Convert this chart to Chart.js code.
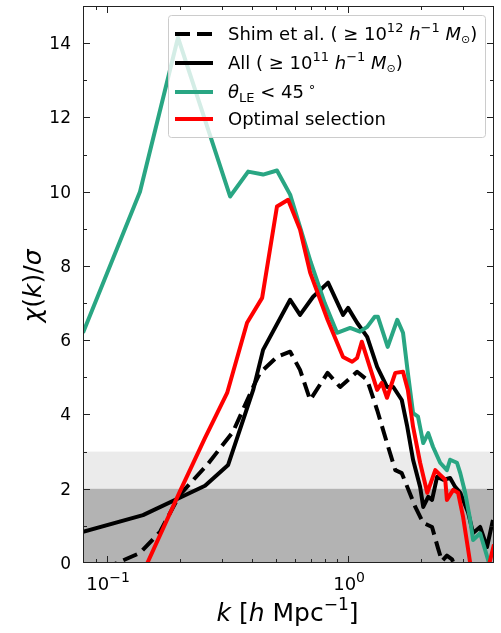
<!DOCTYPE html>
<html>
<head>
<meta charset="utf-8">
<script src="https://cdn.jsdelivr.net/npm/chart.js@4/dist/chart.umd.min.js"></script>
<style>
body { margin:0; background:#fff; }
</style>
</head>
<body>
<canvas id="myChart" width="501" height="633"></canvas>
<script>
// values, k in h/Mpc
const shimK   = [0.0795,0.110,0.137,0.166,0.200,0.260,0.333,0.404,0.431,0.507,0.575,0.632,0.696,0.822,0.927,1.09,1.20,1.32,1.45,1.57,1.67,1.76,1.90,2.05,2.23,2.36,2.45,2.57,2.70,2.92,4.03]
const shimChi = [-0.4,0,0.27,0.84,1.83,2.64,3.53,4.74,5.12,5.55,5.69,5.2,4.39,5.12,4.74,5.15,4.93,4.12,3.23,2.5,2.42,2.05,1.51,1.08,0.97,0.4,0.05,0.2,0.1,-0.5,-1]

const allK   = [0.0795,0.141,0.255,0.318,0.404,0.444,0.575,0.632,0.716,0.826,0.953,1.00,1.09,1.20,1.32,1.45,1.54,1.67,1.76,1.86,1.99,2.05,2.15,2.23,2.34,2.48,2.65,2.78,2.92,3.15,3.30,3.53,3.77,3.99]
const allChi = [0.84,1.29,2.08,2.64,4.66,5.74,7.09,6.68,7.17,7.55,6.68,6.87,6.47,6.09,5.28,4.74,4.74,4.39,3.67,2.78,2.05,1.51,1.78,1.7,2.32,2.24,2.29,2.05,1.89,1.35,0.81,0.97,0.43,1.16]

const thetaK   = [0.0795,0.137,0.197,0.324,0.385,0.444,0.507,0.575,0.70,0.80,0.90,1.02,1.12,1.20,1.29,1.33,1.46,1.60,1.69,1.77,1.86,1.95,2.05,2.15,2.25,2.41,2.57,2.65,2.83,2.92,3.06,3.21,3.30,3.53,3.81,4.03]
const thetaChi = [6.2,10.0,14.15,9.87,10.54,10.46,10.57,9.92,8.1,7.0,6.2,6.33,6.23,6.36,6.63,6.63,5.82,6.55,6.2,5.12,4.04,3.94,3.23,3.5,3.13,2.7,2.5,2.78,2.7,2.42,1.89,1.16,0.62,0.8,0.08,-0.5]

const optK   = [0.147,0.200,0.255,0.315,0.381,0.440,0.507,0.564,0.632,0.696,0.822,0.953,1.04,1.09,1.14,1.23,1.32,1.38,1.45,1.57,1.69,1.77,1.86,1.99,2.13,2.30,2.41,2.53,2.57,2.73,2.86,3.00,3.15,3.21,3.60,4.03]
const optChi = [0,1.91,3.37,4.58,6.47,7.14,9.6,9.78,8.98,7.82,6.55,5.55,5.42,5.52,5.96,5.28,4.66,4.85,4.45,5.12,5.15,4.66,3.67,2.7,1.89,2.5,2.37,2.24,1.7,1.97,1.89,1.24,0.35,0,-0.8,0.5]

const yTicks = [0,2,4,6,8,10,12,14]
const xMajor = [0.1,1]
const xMinor = [0.09,0.2,0.3,0.4,0.5,0.6,0.7,0.8,0.9,2,3,4]
const xTickExp = ["\u22121","0"]

const green = '#29a683'
const FONT = 'DejaVu Sans'

function pts(ks, vs){ return ks.map((k,i) => ({x:k, y:vs[i]})) }

// draws a list of [text, size, italic, dy] pieces on one baseline
function richText(ctx, x, y, parts, align){
    let w = 0
    parts.forEach(p => {
        ctx.font = (p[2] ? 'italic ' : '') + p[1] + 'px ' + FONT
        w += ctx.measureText(p[0]).width
    })
    let cx = x
    if (align == 'center') cx = x - w/2
    if (align == 'right') cx = x - w
    ctx.textAlign = 'left'
    ctx.textBaseline = 'alphabetic'
    parts.forEach(p => {
        ctx.font = (p[2] ? 'italic ' : '') + p[1] + 'px ' + FONT
        ctx.fillText(p[0], cx, y + (p[3] || 0))
        cx += ctx.measureText(p[0]).width
    })
}

const decor = {
    id: 'decor',
    beforeDatasetsDraw(chart){
        const ctx = chart.ctx, a = chart.chartArea, ys = chart.scales.y
        ctx.save()
        ctx.fillStyle = '#ebebeb'
        ctx.fillRect(a.left, ys.getPixelForValue(3), a.right-a.left, ys.getPixelForValue(2)-ys.getPixelForValue(3))
        ctx.fillStyle = '#b3b3b3'
        ctx.fillRect(a.left, ys.getPixelForValue(2), a.right-a.left, ys.getPixelForValue(0)-ys.getPixelForValue(2))
        ctx.restore()
    },
    afterDraw(chart){
        const ctx = chart.ctx, a = chart.chartArea, xs = chart.scales.x, ys = chart.scales.y
        ctx.save()
        ctx.strokeStyle = '#222'
        ctx.lineWidth = 1
        ctx.strokeRect(a.left+0.5, a.top+0.5, a.right-a.left-1, a.bottom-a.top-1)

        ctx.beginPath()
        for (let v = 1; v <= 15; v++){
            const p = Math.round(ys.getPixelForValue(v)) + 0.5
            const len = v % 2 == 0 ? 7 : 4
            ctx.moveTo(a.left, p); ctx.lineTo(a.left+len, p)
            ctx.moveTo(a.right, p); ctx.lineTo(a.right-len, p)
        }
        xMajor.concat(xMinor).forEach(v => {
            const p = Math.round(xs.getPixelForValue(v)) + 0.5
            const len = xMajor.includes(v) ? 7 : 4
            ctx.moveTo(p, a.bottom); ctx.lineTo(p, a.bottom-len)
            ctx.moveTo(p, a.top); ctx.lineTo(p, a.top+len)
        })
        ctx.stroke()

        ctx.fillStyle = '#000'
        yTicks.forEach(v => {
            richText(ctx, a.left-12, ys.getPixelForValue(v)+6, [[String(v),17,false]], 'right')
        })
        xMajor.forEach((v,i) => {
            richText(ctx, xs.getPixelForValue(v)+1, a.bottom+27, [["10",18,false],[xTickExp[i],14,false,-8]], 'center')
        })

        // axis titles
        richText(ctx, (a.left+a.right)/2 - 1, 621, [["k",25,true],[" [",25,false],["h",25,true],[" Mpc",25,false],["\u22121",17,false,-11],["]",25,false]], 'center')
        ctx.save()
        ctx.translate(41, 286)
        ctx.rotate(-Math.PI/2)
        richText(ctx, 0, 0, [["\u03c7",25,true],["(",25,false],["k",25,true],[")/",25,false],["\u03c3",25,true]], 'center')
        ctx.restore()

        // legend
        const L = {x:168, y:15, w:317, h:122}
        ctx.beginPath()
        ctx.roundRect(L.x+0.5, L.y+0.5, L.w, L.h, 3)
        ctx.fillStyle = 'rgba(255,255,255,0.8)'
        ctx.fill()
        ctx.strokeStyle = '#cccccc'
        ctx.stroke()

        const rows = [
            {c:'#000', dash:[15,7], y:34, text:[["Shim et al. (",18,false],[" \u2265 ",18,false],["10",18,false],["12",13,false,-8],[" h",18,true],["\u22121",13,false,-8],[" M",18,true],["\u2299",11,false,3],[")",18,false]]},
            {c:'#000', dash:[], y:63, text:[["All (",18,false],[" \u2265 ",18,false],["10",18,false],["11",13,false,-8],[" h",18,true],["\u22121",13,false,-8],[" M",18,true],["\u2299",11,false,3],[")",18,false]]},
            {c:green, dash:[], y:92, text:[["\u03b8",18,true],["LE",13,false,4],[" < 45",18,false],[" \u2218",13,false,-7]]},
            {c:'#ff0000', dash:[], y:119, text:[["Optimal selection",18,false]]}
        ]
        rows.forEach(r => {
            ctx.beginPath()
            ctx.setLineDash(r.dash)
            ctx.strokeStyle = r.c
            ctx.lineWidth = 4
            ctx.moveTo(175, r.y); ctx.lineTo(213, r.y)
            ctx.stroke()
            ctx.setLineDash([])
            ctx.fillStyle = '#000'
            richText(ctx, 228, r.y+6, r.text, 'left')
        })
        ctx.restore()
    }
}

const common = {pointRadius:0, borderWidth:4, fill:false, tension:0, borderJoinStyle:'round', borderCapStyle:'butt'}

new Chart(document.getElementById("myChart"), {
    type:'line',
    data:{
        datasets:[
            Object.assign({label:'Optimal selection', data:pts(optK,optChi), borderColor:'#ff0000', order:0}, common),
            Object.assign({label:'theta', data:pts(thetaK,thetaChi), borderColor:green, order:1}, common),
            Object.assign({label:'All', data:pts(allK,allChi), borderColor:'#000', order:2}, common),
            Object.assign({label:'Shim et al.', data:pts(shimK,shimChi), borderColor:'#000', borderDash:[15,7], order:3}, common)
        ]
    },
    options:{
        responsive:false,
        animation:false,
        layout:{padding:{left:83, top:6, right:7, bottom:70}},
        plugins:{legend:{display:false}, tooltip:{enabled:false}},
        scales:{
            x:{type:'logarithmic', min:0.0795, max:4.03, display:false},
            y:{type:'linear', min:0, max:15, display:false}
        }
    },
    plugins:[decor]
})
</script>
</body>
</html>
